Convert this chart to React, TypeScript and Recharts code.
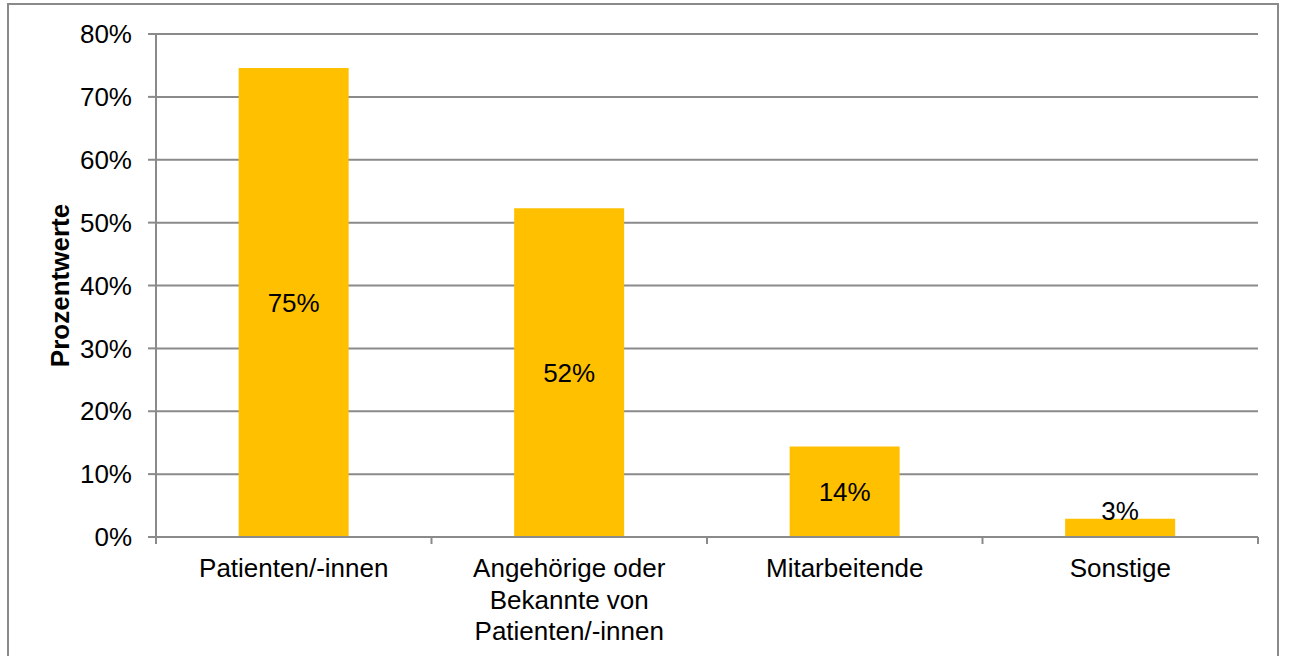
import React from "react";
import { BarChart, Bar, XAxis, YAxis, CartesianGrid, LabelList } from "recharts";

const categories = [
  "Patienten/-innen",
  "Angehörige oder\nBekannte von\nPatienten/-innen",
  "Mitarbeitende",
  "Sonstige",
];
const shares = [74.6, 52.3, 14.4, 2.9];
const yTicks = [0, 10, 20, 30, 40, 50, 60, 70, 80];
const yLabel = "Prozentwerte";

const data = categories.map((name, i) => ({ name, value: shares[i] }));

const FONT = "'Liberation Sans', Arial, sans-serif";
const GREY = "#8a8a8a";
const PLOT_LEFT = 156;
const PLOT_RIGHT = 1258;
const BAND = (PLOT_RIGHT - PLOT_LEFT) / categories.length;

function CategoryTick(props: any) {
  const { x, y, payload, index } = props;
  const half = payload?.offset ? payload.offset : BAND / 2;
  const lines = String(payload.value).split("\n");
  return (
    <g>
      {index === 0 && (
        <line x1={x - half} x2={x - half} y1={y} y2={y + 7} stroke={GREY} strokeWidth={2} />
      )}
      <line x1={x + half} x2={x + half} y1={y} y2={y + 7} stroke={GREY} strokeWidth={2} />
      <text x={x} y={y + 40} textAnchor="middle" fontFamily={FONT} fontSize={26} fill="#000">
        {lines.map((l, i) => (
          <tspan key={i} x={x} dy={i === 0 ? 0 : 31.5}>
            {l}
          </tspan>
        ))}
      </text>
    </g>
  );
}

function ValueLabel(props: any) {
  const { x, y, width, height, value } = props;
  const cy = height < 24 ? y - 8 : y + height / 2;
  return (
    <text
      x={x + width / 2}
      y={cy}
      dy="0.36em"
      textAnchor="middle"
      fontFamily={FONT}
      fontSize={26}
      fill="#000"
    >
      {Math.round(value)}%
    </text>
  );
}

function AxisTitle(props: any) {
  const { viewBox } = props;
  const cx = viewBox.x + 60;
  const cy = viewBox.y + viewBox.height / 2;
  return (
    <text
      x={cx}
      y={cy}
      transform={`rotate(-90, ${cx}, ${cy})`}
      textAnchor="middle"
      dy="0.36em"
      fontFamily={FONT}
      fontSize={26}
      fontWeight="bold"
      fill="#000"
    >
      {yLabel}
    </text>
  );
}

export default function App() {
  return (
    <div style={{ position: "absolute", left: 0, top: 0, width: 1291, height: 656, background: "#fff", overflow: "hidden" }}>
      <div
        style={{
          position: "absolute",
          left: 7,
          top: 3,
          width: 1272,
          height: 680,
          border: `2px solid ${GREY}`,
          boxSizing: "border-box",
        }}
      />
      <div style={{ position: "absolute", left: 0, top: 0 }}>
        <BarChart
          width={1291}
          height={656}
          data={data}
          margin={{ top: 34, right: 1291 - PLOT_RIGHT, bottom: 0, left: 0 }}
          barCategoryGap="30%"
        >
          <CartesianGrid vertical={false} stroke={GREY} strokeWidth={2} />
          <XAxis
            dataKey="name"
            height={119}
            axisLine={{ stroke: GREY, strokeWidth: 2 }}
            tickLine={false}
            tickSize={0}
            tickMargin={0}
            interval={0}
            tick={<CategoryTick />}
          />
          <YAxis
            width={PLOT_LEFT}
            domain={[0, 80]}
            ticks={yTicks}
            interval={0}
            tickFormatter={(v: number) => `${v}%`}
            axisLine={{ stroke: GREY, strokeWidth: 2 }}
            tickLine={{ stroke: GREY, strokeWidth: 2 }}
            tickSize={8}
            tickMargin={16}
            tick={{ fontFamily: FONT, fontSize: 26, fill: "#000" }}
            label={<AxisTitle />}
          />
          <Bar dataKey="value" fill="#FFC000" isAnimationActive={false}>
            <LabelList dataKey="value" content={<ValueLabel />} />
          </Bar>
        </BarChart>
      </div>
    </div>
  );
}
